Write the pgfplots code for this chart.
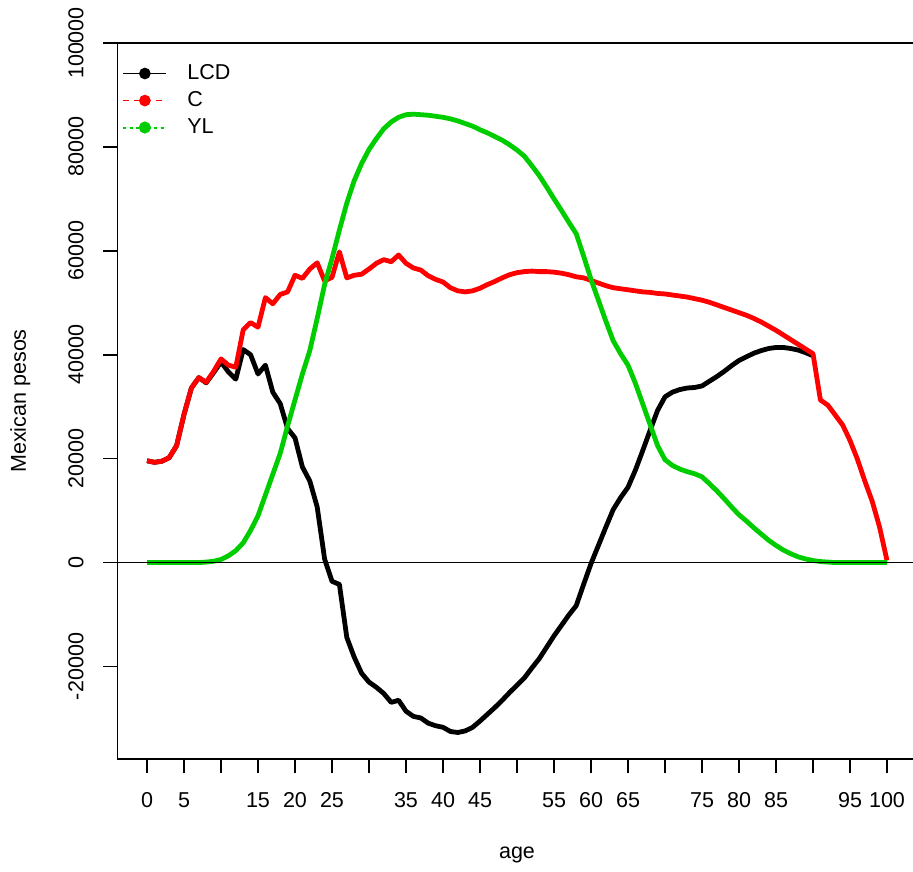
\documentclass[border=0pt]{standalone}
\usepackage{fontspec}
\setmainfont{Liberation Sans}
\usepackage{pgfplots}
\pgfplotsset{compat=1.18}
\usepackage{pgfplotstable}

\definecolor{rgreen}{RGB}{0,205,0}

% life cycle deficit, consumption, labour income by age
\pgfplotstableread{
age LCD
0 19600
1 19300
2 19500
3 20200
4 22500
5 28500
6 33600
7 35600
8 34600
9 36550
10 38600
11 36700
12 35300
13 41000
14 40000
15 36300
16 38000
17 32800
18 30600
19 25800
20 24000
21 18400
22 15700
23 10700
24 700
25 -3600
26 -4200
27 -14400
28 -18200
29 -21300
30 -23000
31 -24000
32 -25200
33 -26900
34 -26500
35 -28600
36 -29600
37 -29900
38 -30900
39 -31400
40 -31700
41 -32500
42 -32700
43 -32400
44 -31700
45 -30500
46 -29200
47 -27900
48 -26500
49 -25000
50 -23600
51 -22200
52 -20300
53 -18500
54 -16300
55 -14100
56 -12100
57 -10100
58 -8300
59 -4200
60 -200
61 3300
62 6800
63 10200
64 12500
65 14500
66 17800
67 21600
68 25500
69 29300
70 31900
71 32800
72 33300
73 33600
74 33700
75 34000
76 34900
77 35800
78 36800
79 37900
80 38900
81 39600
82 40300
83 40800
84 41200
85 41400
86 41400
87 41200
88 40900
89 40400
90 39800
}\lcdtab

\pgfplotstableread{
age C YL
0 19600 0
1 19300 0
2 19500 0
3 20200 0
4 22500 0
5 28500 0
6 33600 0
7 35600 0
8 34700 100
9 36800 250
10 39200 600
11 38000 1300
12 37600 2300
13 44800 3800
14 46200 6200
15 45300 9000
16 51000 13000
17 49800 17000
18 51600 21000
19 52100 26300
20 55300 31300
21 54700 36300
22 56500 40800
23 57700 47000
24 54200 53500
25 54900 58500
26 59800 64000
27 54800 69200
28 55300 73500
29 55500 76800
30 56500 79500
31 57600 81600
32 58300 83500
33 57900 84800
34 59200 85700
35 57600 86200
36 56700 86300
37 56300 86200
38 55200 86100
39 54500 85900
40 54000 85700
41 52900 85400
42 52300 85000
43 52100 84500
44 52300 84000
45 52800 83300
46 53500 82700
47 54100 82000
48 54800 81300
49 55400 80400
50 55800 79400
51 56000 78200
52 56100 76400
53 56000 74500
54 56000 72300
55 55900 70000
56 55700 67800
57 55400 65500
58 55000 63300
59 54800 59000
60 54300 54500
61 53800 50500
62 53300 46500
63 52900 42700
64 52700 40200
65 52500 38000
66 52300 34500
67 52100 30500
68 52000 26500
69 51800 22500
70 51700 19800
71 51500 18700
72 51300 18000
73 51100 17500
74 50800 17100
75 50500 16500
76 50100 15200
77 49600 13800
78 49100 12300
79 48600 10700
80 48100 9200
81 47600 8000
82 47000 6700
83 46300 5500
84 45500 4300
85 44700 3300
86 43800 2400
87 42900 1700
88 42000 1100
89 41100 700
90 40200 400
91 31300 200
92 30300 100
93 28400 0
94 26500 0
95 23500 0
96 19900 0
97 15700 0
98 11800 0
99 6800 0
100 400 0
}\cyltab

\begin{document}
\fontsize{10.8}{13}\selectfont
\begin{tikzpicture}
\begin{axis}[
    name=ax,
    scale only axis,
    width=399.6bp, height=358bp,
    xmin=-4, xmax=104,
    ymin=-37800, ymax=100000,
    axis line style={line width=0.75bp},
    tick align=outside, tick pos=left,
    major tick length=7bp,
    major tick style={black, line width=0.75bp},
    scaled ticks=false,
    xtick={0,5,...,100},
    xticklabels={0,5,,15,20,25,,35,40,45,,55,60,65,,75,80,85,,95,100},
    ytick={-20000,0,20000,40000,60000,80000,100000},
    yticklabels={-20000,0,20000,40000,60000,80000,100000},
    xticklabel style={anchor=north, inner sep=0pt},
    yticklabel style={rotate=90, anchor=south, inner sep=0pt},
    xticklabel shift=9.75bp, yticklabel shift=9.75bp,
    xlabel={age}, ylabel={Mexican pesos},
    every axis x label/.style={at={(axis description cs:0.5,-0.134)}, anchor=center},
    every axis y label/.style={at={(axis description cs:-0.1214,0.5)}, anchor=center, rotate=90},
    legend image code/.code={
        \draw[#1] (0bp,0bp) -- (21.5bp,0bp);
        \fill[#1, solid] (10.75bp,0bp) circle (2.5bp);
        \path (31.5bp,0bp);
    },
    legend style={at={(axis description cs:0,1)}, anchor=north west,
        xshift=2.3bp, yshift=-10.5bp, draw=none, fill=none,
        inner sep=0pt, row sep=4.4bp, nodes={inner sep=0pt}},
    legend cell align=left,
]
\addlegendimage{black, line width=0.8bp}
\addlegendentry{LCD}
\addlegendimage{red, line width=0.8bp, dash pattern=on 3bp off 2.5bp}
\addlegendentry{C}
\addlegendimage{draw=rgreen, fill=rgreen, line width=1bp, dash pattern=on 1.5bp off 1.6bp}
\addlegendentry{YL}

\addplot[black, line width=2.4bp, line join=round, forget plot] table[x=age, y=LCD]{\lcdtab};
\addplot[red, line width=2.4bp, line join=round, forget plot] table[x=age, y=C]{\cyltab};
\addplot[rgreen, line width=2.4bp, line join=round, forget plot] table[x=age, y=YL]{\cyltab};
\addplot[black, line width=0.75bp, forget plot] coordinates {(-4,0) (104,0)};
\end{axis}
\pgfresetboundingbox
\useasboundingbox ([xshift=-58.7bp,yshift=-56.5bp]ax.south west) rectangle ([xshift=-1.8bp,yshift=21.5bp]ax.north east);
\end{tikzpicture}
\end{document}
